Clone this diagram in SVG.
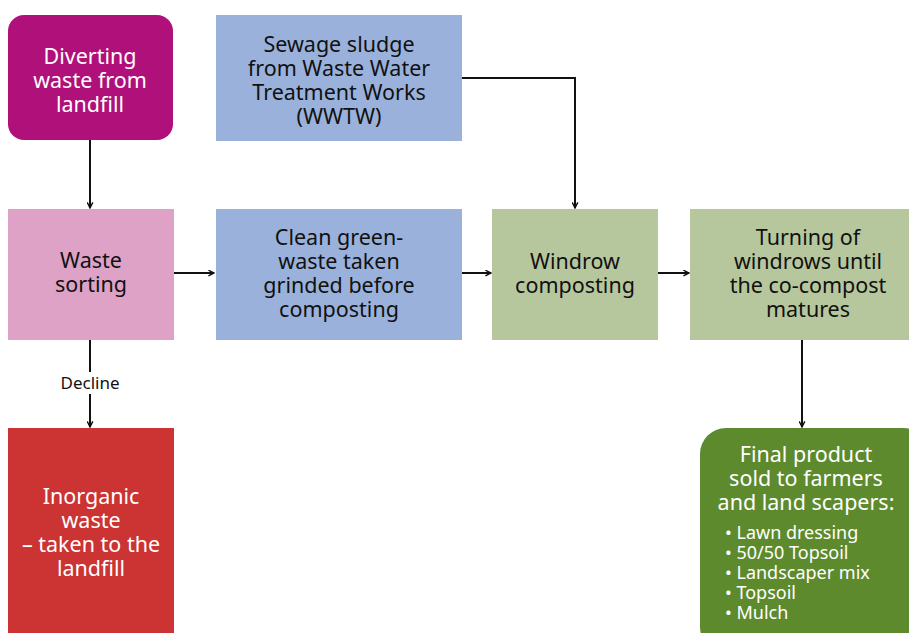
<svg xmlns="http://www.w3.org/2000/svg" width="909" height="633" viewBox="0 0 909 633">
  <defs>
    <marker id="arrow" viewBox="0 0 10 10" refX="9" refY="5" markerWidth="7" markerHeight="7" orient="auto" markerUnits="userSpaceOnUse">
      <path d="M1,1 L9,5 L1,9" fill="none" stroke="#111" stroke-width="2"/>
    </marker>
    <style>
      .lbl { font-family: "Noto Sans", "Open Sans", sans-serif; font-size: 21.5px; text-anchor: middle; }
      .dark { fill: #111; }
      .light { fill: #fff; }
      .small { font-family: "Noto Sans", "Open Sans", sans-serif; font-size: 18px; fill: #fff; }
      .conn { fill: none; stroke: #111; stroke-width: 2; marker-end: url(#arrow); }
    </style>
  </defs>
  <rect width="909" height="633" fill="#fff"/>

  <g id="diverting">
    <rect x="8" y="15" width="165" height="125" rx="16" fill="#B0107A"/>
    <text class="lbl light" x="90" y="64">Diverting</text>
    <text class="lbl light" x="90" y="88">waste from</text>
    <text class="lbl light" x="90" y="112">landfill</text>
  </g>

  <g id="sewage">
    <rect x="216" y="15" width="246" height="126" fill="#9AB1DB"/>
    <text class="lbl dark" x="339" y="52">Sewage sludge</text>
    <text class="lbl dark" x="339" y="76">from Waste Water</text>
    <text class="lbl dark" x="339" y="100">Treatment Works</text>
    <text class="lbl dark" x="339" y="124">(WWTW)</text>
  </g>

  <g id="sorting">
    <rect x="8" y="209" width="166" height="131" fill="#DDA2C6"/>
    <text class="lbl dark" x="91" y="268">Waste</text>
    <text class="lbl dark" x="91" y="292">sorting</text>
  </g>

  <g id="clean">
    <rect x="216" y="209" width="246" height="131" fill="#9AB1DB"/>
    <text class="lbl dark" x="339" y="245">Clean green-</text>
    <text class="lbl dark" x="339" y="269">waste taken</text>
    <text class="lbl dark" x="339" y="293">grinded before</text>
    <text class="lbl dark" x="339" y="317">composting</text>
  </g>

  <g id="windrow">
    <rect x="492" y="209" width="166" height="131" fill="#B7C79D"/>
    <text class="lbl dark" x="575" y="269">Windrow</text>
    <text class="lbl dark" x="575" y="293">composting</text>
  </g>

  <g id="turning">
    <rect x="690" y="209" width="219" height="131" fill="#B7C79D"/>
    <text class="lbl dark" x="808" y="245">Turning of</text>
    <text class="lbl dark" x="808" y="269">windrows until</text>
    <text class="lbl dark" x="808" y="293">the co-compost</text>
    <text class="lbl dark" x="808" y="317">matures</text>
  </g>

  <g id="inorganic">
    <rect x="8" y="428" width="166" height="205" fill="#CC3333"/>
    <text class="lbl light" x="91" y="504">Inorganic</text>
    <text class="lbl light" x="91" y="528">waste</text>
    <text class="lbl light" x="91" y="552">– taken to the</text>
    <text class="lbl light" x="91" y="576">landfill</text>
  </g>

  <g id="final">
    <rect x="700" y="428" width="230" height="225" rx="26" fill="#5E8A2E"/>
    <text class="lbl light" x="806" y="462">Final product</text>
    <text class="lbl light" x="806" y="486">sold to farmers</text>
    <text class="lbl light" x="806" y="510">and land scapers:</text>
    <text class="small" x="725" y="539">• Lawn dressing</text>
    <text class="small" x="725" y="559">• 50/50 Topsoil</text>
    <text class="small" x="725" y="579">• Landscaper mix</text>
    <text class="small" x="725" y="599">• Topsoil</text>
    <text class="small" x="725" y="619">• Mulch</text>
  </g>

  <g id="connectors">
    <path class="conn" d="M90,140 V208"/>
    <path class="conn" d="M174,273 H214"/>
    <path class="conn" d="M462,78 H575 V208"/>
    <path class="conn" d="M462,273 H491"/>
    <path class="conn" d="M658,273 H689"/>
    <path class="conn" d="M802,340 V427"/>
    <path class="conn" d="M90,340 V427"/>
    <rect x="54" y="372" width="72" height="22" fill="#fff"/>
    <text x="90" y="389" font-family="Noto Sans, Open Sans, sans-serif" font-size="17" text-anchor="middle" fill="#111">Decline</text>
  </g>
</svg>
